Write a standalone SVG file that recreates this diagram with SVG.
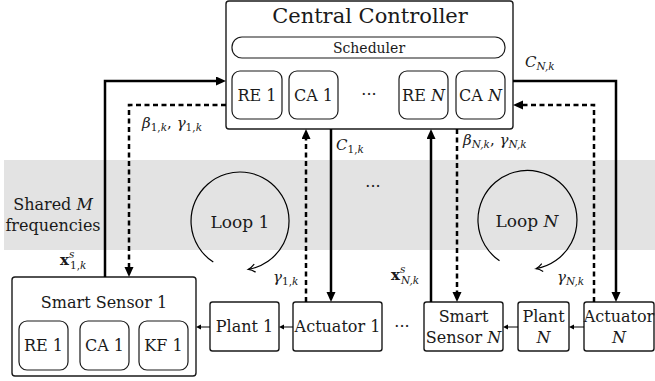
<svg xmlns="http://www.w3.org/2000/svg" width="655" height="381" viewBox="0 0 655 381">
<style>
text{font-family:"DejaVu Serif",serif;fill:#1a1a1a}
.box{fill:#fff;stroke:#1a1a1a;stroke-width:1.4}
.rbox{fill:#fff;stroke:#1a1a1a;stroke-width:1.2}
.thick{fill:none;stroke:#000;stroke-width:2.5}
.dash{fill:none;stroke:#000;stroke-width:2.5;stroke-dasharray:5 3.5}
.thin{fill:none;stroke:#000;stroke-width:1}
.loop{fill:none;stroke:#000;stroke-width:1.2}
.lbl{font-size:16px;text-anchor:middle}
.m{font-size:15px}
.i{font-style:italic}
.s{font-size:10.5px}
</style>
<defs>
<marker id="ah" markerUnits="userSpaceOnUse" markerWidth="11" markerHeight="10" refX="3" refY="4.5" orient="auto"><path d="M0,0 L10,4.5 L0,9 z" fill="#000"/></marker>
<marker id="sah" markerUnits="userSpaceOnUse" markerWidth="7" markerHeight="6" refX="1" refY="2.5" orient="auto"><path d="M0,0 L5,2.5 L0,5 z" fill="#000"/></marker>
<marker id="oah" markerUnits="userSpaceOnUse" markerWidth="10" markerHeight="10" refX="7" refY="4.5" orient="auto"><path d="M0.5,0.5 Q4,3.6 7,4.5 Q4,5.4 0.5,8.5" fill="none" stroke="#000" stroke-width="1.2"/></marker>
</defs>

<rect x="4" y="160" width="651" height="90" fill="#e3e3e3"/>
<text x="53" y="210" font-size="16" text-anchor="middle">Shared <tspan class="i">M</tspan></text>
<text x="53" y="231" font-size="16" text-anchor="middle">frequencies</text>

<g id="loop1">
<path class="loop" d="M213.3,262.1 A49,49 0 1 1 248.5,269.3" marker-end="url(#oah)"/>
<text x="240" y="228" font-size="17" text-anchor="middle">Loop 1</text>
</g>
<g id="loopN">
<path class="loop" d="M499.5,260.8 A49.5,49.5 0 1 1 536.1,268.7" marker-end="url(#oah)"/>
<text x="527" y="227" font-size="17" text-anchor="middle">Loop <tspan class="i">N</tspan></text>
</g>
<text x="373" y="192" font-size="16" text-anchor="middle">···</text>

<g id="controller">
<rect class="box" x="226" y="1" width="287" height="128" rx="3"/>
<text x="370" y="23" font-size="21" text-anchor="middle">Central Controller</text>
<rect class="rbox" x="232" y="37" width="273" height="21" rx="10"/>
<text x="369" y="53" font-size="14" text-anchor="middle">Scheduler</text>
<rect class="rbox" x="232" y="71" width="50" height="48" rx="8"/>
<text class="lbl" x="257" y="101">RE 1</text>
<rect class="rbox" x="289" y="71" width="49" height="48" rx="8"/>
<text class="lbl" x="313.5" y="101">CA 1</text>
<text class="lbl" x="369" y="100">···</text>
<rect class="rbox" x="399" y="71" width="49" height="48" rx="8"/>
<text class="lbl" x="423.5" y="101">RE <tspan class="i">N</tspan></text>
<rect class="rbox" x="456" y="71" width="49" height="48" rx="8"/>
<text class="lbl" x="480.5" y="101">CA <tspan class="i">N</tspan></text>
</g>

<g id="sensor1">
<rect class="box" x="12" y="277" width="184" height="99" rx="3"/>
<text class="lbl" x="104" y="308" font-size="15">Smart Sensor 1</text>
<rect class="rbox" x="19" y="321" width="49" height="49" rx="8"/>
<text class="lbl" x="43.5" y="351">RE 1</text>
<rect class="rbox" x="80" y="321" width="49" height="49" rx="8"/>
<text class="lbl" x="104.5" y="351">CA 1</text>
<rect class="rbox" x="139" y="321" width="49" height="49" rx="8"/>
<text class="lbl" x="163.5" y="351">KF 1</text>
</g>
<g id="plant1">
<rect class="box" x="210" y="302" width="69" height="49" rx="2.5"/>
<text class="lbl" x="244.5" y="332">Plant 1</text>
</g>
<g id="actuator1">
<rect class="box" x="293" y="302" width="89" height="49" rx="2.5"/>
<text class="lbl" x="337.5" y="332">Actuator 1</text>
</g>
<text x="402" y="332" font-size="16" text-anchor="middle">···</text>
<g id="sensorN">
<rect class="box" x="424" y="302" width="79" height="49" rx="2.5"/>
<text class="lbl" x="463.5" y="322">Smart</text>
<text class="lbl" x="463.5" y="343">Sensor <tspan class="i">N</tspan></text>
</g>
<g id="plantN">
<rect class="box" x="518" y="302" width="51" height="49" rx="2.5"/>
<text class="lbl" x="543.5" y="322">Plant</text>
<text class="lbl i" x="543.5" y="343">N</text>
</g>
<g id="actuatorN">
<rect class="box" x="584" y="302" width="70" height="49" rx="2.5"/>
<text class="lbl" x="619" y="322" font-size="15">Actuator</text>
<text class="lbl i" x="619" y="343">N</text>
</g>

<g id="connectors">
<path class="thick" d="M105,277 V81 H219" marker-end="url(#ah)"/>
<path class="dash" d="M226,105 H129 V270" marker-end="url(#ah)"/>
<path class="dash" d="M306,302 V136" marker-end="url(#ah)"/>
<path class="thick" d="M331,129 V295" marker-end="url(#ah)"/>
<path class="thick" d="M431,302 V136" marker-end="url(#ah)"/>
<path class="dash" d="M457,129 V295" marker-end="url(#ah)"/>
<path class="thick" d="M513,81 H616 V295" marker-end="url(#ah)"/>
<path class="dash" d="M594,302 V105 H520" marker-end="url(#ah)"/>
<path class="thin" d="M293,327 H283" marker-end="url(#sah)"/>
<path class="thin" d="M210,327 H200" marker-end="url(#sah)"/>
<path class="thin" d="M584,327 H573" marker-end="url(#sah)"/>
<path class="thin" d="M518,327 H507" marker-end="url(#sah)"/>
</g>

<g id="labels">
<text class="m" x="142" y="128"><tspan class="i">β</tspan><tspan class="s" dy="3">1,<tspan class="i">k</tspan></tspan><tspan dy="-3">, </tspan><tspan class="i">γ</tspan><tspan class="s" dy="3">1,<tspan class="i">k</tspan></tspan></text>
<text class="m" x="336" y="150"><tspan class="i">C</tspan><tspan class="s" dy="3">1,<tspan class="i">k</tspan></tspan></text>
<text class="m" x="463" y="145"><tspan class="i">β</tspan><tspan class="s i" dy="3">N,k</tspan><tspan dy="-3">, </tspan><tspan class="i">γ</tspan><tspan class="s i" dy="3">N,k</tspan></text>
<text class="m" x="525" y="67"><tspan class="i">C</tspan><tspan class="s i" dy="3">N,k</tspan></text>
<text class="m" x="60" y="265"><tspan font-weight="bold">x</tspan><tspan class="s i" dy="-7">s</tspan><tspan class="s" x="70" dy="11">1,<tspan class="i">k</tspan></tspan></text>
<text class="m" x="391" y="280"><tspan font-weight="bold">x</tspan><tspan class="s i" dy="-7">s</tspan><tspan class="s i" x="401" dy="11">N,k</tspan></text>
<text class="m" x="273" y="282"><tspan class="i">γ</tspan><tspan class="s" dy="3">1,<tspan class="i">k</tspan></tspan></text>
<text class="m" x="557" y="282"><tspan class="i">γ</tspan><tspan class="s i" dy="3">N,k</tspan></text>
</g>
</svg>
